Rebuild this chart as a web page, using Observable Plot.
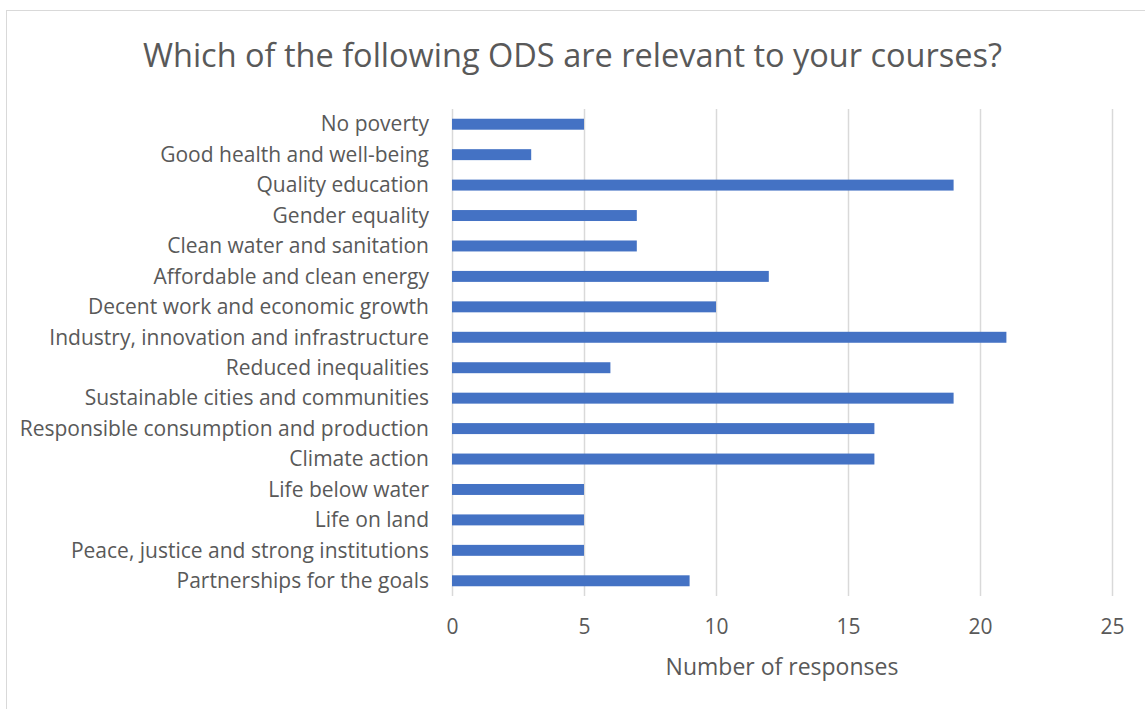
<!DOCTYPE html>
<html>
<head>
<meta charset="utf-8">
<script src="https://cdn.jsdelivr.net/npm/d3@7"></script>
<script src="https://cdn.jsdelivr.net/npm/@observablehq/plot@0.6"></script>
<style>
  body { margin: 0; background: #fff; width: 1145px; height: 709px; overflow: hidden; position: relative; font-family: "Open Sans", sans-serif; }
  #frame { position: absolute; left: 6px; top: 10px; width: 1140px; height: 705px; border: 1px solid #d9d9d9; box-sizing: border-box; }
  #title { position: absolute; left: 0; top: 33px; width: 1145px; text-align: center; font-size: 32.5px; color: #595959; line-height: 44px; }
  #xlabel { position: absolute; left: 452px; width: 660px; top: 651px; text-align: center; font-size: 23px; color: #595959; line-height: 30px; }
  #chart { position: absolute; left: 0; top: 90px; }
</style>
</head>
<body>
<div id="frame"></div>
<div id="title">Which of the following ODS are relevant to your courses?</div>
<div id="chart"></div>
<div id="xlabel">Number of responses</div>
<script>
const categories = [
  "No poverty",
  "Good health and well-being",
  "Quality education",
  "Gender equality",
  "Clean water and sanitation",
  "Affordable and clean energy",
  "Decent work and economic growth",
  "Industry, innovation and infrastructure",
  "Reduced inequalities",
  "Sustainable cities and communities",
  "Responsible consumption and production",
  "Climate action",
  "Life below water",
  "Life on land",
  "Peace, justice and strong institutions",
  "Partnerships for the goals"
];
const responses = [5, 3, 19, 7, 7, 12, 10, 21, 6, 19, 16, 16, 5, 5, 5, 9];
const xTicks = [0, 5, 10, 15, 20, 25];

const data = categories.map((c, i) => ({category: c, value: responses[i]}));

const chart = Plot.plot({
  width: 1145,
  height: 600,
  marginLeft: 452,
  marginRight: 33,
  marginTop: 19,
  marginBottom: 94,
  style: {fontFamily: "'Open Sans', sans-serif", fontSize: "21px", color: "#595959", background: "transparent"},
  x: {domain: [0, 25], ticks: xTicks, tickSize: 0, tickPadding: 23, label: null},
  y: {domain: categories, paddingInner: 0.64, paddingOuter: 0.32, round: false, tickSize: 0, tickPadding: 23.5, label: null},
  marks: [
    Plot.ruleX(xTicks, {stroke: "#d9d9d9", strokeWidth: 1.5}),
    Plot.barX(data, {x: "value", y: "category", fill: "#4472C4"})
  ]
});
document.getElementById("chart").appendChild(chart);
</script>
</body>
</html>
